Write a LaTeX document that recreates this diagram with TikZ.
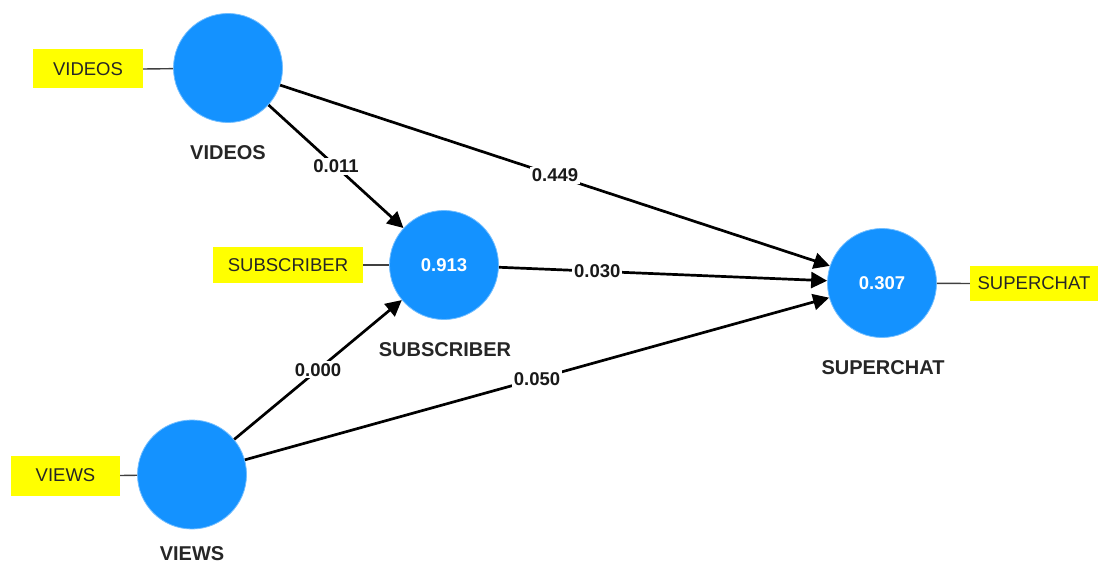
\documentclass[tikz,border=0pt]{standalone}
\usepackage{fontspec}
\setmainfont{Liberation Sans}
\usetikzlibrary{arrows.meta}
\definecolor{lvblue}{RGB}{20,146,255}
\definecolor{indyellow}{RGB}{255,255,0}
\tikzset{
  latent/.style={circle,fill=lvblue,draw=lvblue!60!white,line width=0.8pt,minimum size=109pt,inner sep=0pt,text=white,font=\fontsize{18.5}{22}\selectfont\bfseries},
  indicator/.style={rectangle,fill=indyellow,inner sep=0pt,font=\fontsize{18.5}{22}\selectfont,text=black!85},
  lvname/.style={font=\fontsize{20}{24}\selectfont\bfseries,text=black!85},
  loadline/.style={draw=black!75,line width=1.4pt},
  path/.style={draw=black,line width=2.7pt,-{Triangle[length=16pt,width=16pt]}},
  coef/.style={fill=white,inner sep=2pt,font=\fontsize{18.5}{22}\selectfont\bfseries,text=black!90}
}
\begin{document}
\begin{tikzpicture}[x=1pt,y=-1pt]
\useasboundingbox[fill=white] (0,0) rectangle (1099,567);
% latent variables
\node[latent] (v) at (228,68) {};
\node[latent] (s) at (444,265) {0.913};
\node[latent] (c) at (882,283) {0.307};
\node[latent] (w) at (192,474.5) {};
% names
\node[lvname] (vn) at (228,153) {VIDEOS};
\node[lvname] (sn) at (445,350) {SUBSCRIBER};
\node[lvname] (cn) at (883,368) {SUPERCHAT};
\node[lvname] (wn) at (192,554) {VIEWS};
% indicators
\node[indicator,minimum width=110pt,minimum height=39pt] (vi) at (88,69) {VIDEOS};
\node[indicator,minimum width=150pt,minimum height=36pt] (si) at (288,265) {SUBSCRIBER};
\node[indicator,minimum width=128pt,minimum height=35pt] (ci) at (1034,283.5) {SUPERCHAT};
\node[indicator,minimum width=109pt,minimum height=40pt] (wi) at (65.5,475.5) {VIEWS};
% loadings
\draw[loadline] (vi.east) -- (v);
\draw[loadline] (si.east) -- (s);
\draw[loadline] (c) -- (ci.west);
\draw[loadline] (wi.east) -- (w);
% structural paths
\draw[path] (v) -- node[coef,pos=0.5] (l1) {0.011} (s);
\draw[path] (v) -- node[coef,pos=0.5] (l2) {0.449} (c);
\draw[path] (s) -- node[coef,pos=0.30] (l3) {0.030} (c);
\draw[path] (w) -- node[coef,pos=0.5] (l4) {0.000} (s);
\draw[path] (w) -- node[coef,pos=0.5] (l5) {0.050} (c);
\end{tikzpicture}
\end{document}
